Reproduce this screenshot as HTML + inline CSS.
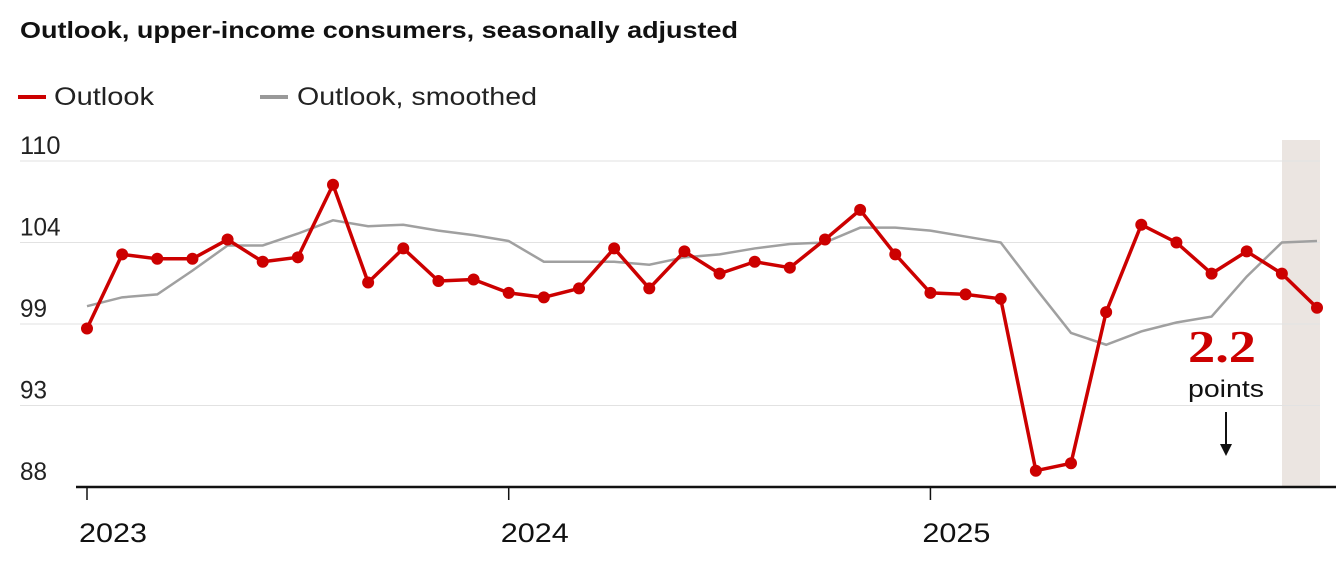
<!DOCTYPE html>
<html><head><meta charset="utf-8"><style>
body{margin:0;background:#fff;font-family:"Liberation Sans",sans-serif}
svg text{font-family:"Liberation Sans",sans-serif}
</style></head><body>
<svg id="chart" width="1343" height="567" viewBox="0 0 1343 567">
<text x="20" y="38" font-size="23" font-weight="bold" fill="#111" textLength="718" lengthAdjust="spacingAndGlyphs">Outlook, upper-income consumers, seasonally adjusted</text>
<g><line x1="18" y1="97" x2="46" y2="97" stroke="#cc0000" stroke-width="4"/><text x="54" y="105" font-size="25" fill="#222" textLength="100" lengthAdjust="spacingAndGlyphs">Outlook</text></g>
<g><line x1="260" y1="97" x2="288" y2="97" stroke="#999" stroke-width="4"/><text x="297" y="105" font-size="25" fill="#222" textLength="240" lengthAdjust="spacingAndGlyphs">Outlook, smoothed</text></g>
<rect x="1282" y="140" width="38" height="347" fill="#ebe5e1"/>
<g id="grid"></g>
<g id="series"></g>
<text x="1188" y="362" font-size="46" font-weight="bold" fill="#cc0000" textLength="68" lengthAdjust="spacingAndGlyphs" style="font-family:'Liberation Serif',serif">2.2</text>
<text x="1188" y="397" font-size="24" fill="#111" textLength="76" lengthAdjust="spacingAndGlyphs">points</text>
<line x1="1226" y1="412" x2="1226" y2="448" stroke="#111" stroke-width="2"/>
<polygon points="1220,444 1232,444 1226,456" fill="#111"/>
</svg>
<script>
const yTickValues=[110,104.5,99,93.5,88];
const yTickLabels=["110","104","99","93","88"];
const xYearLabels=["2023","2024","2025"];
const outlook=[98.7,103.7,103.4,103.4,104.7,103.2,103.5,108.4,101.8,104.1,101.9,102.0,101.1,100.8,101.4,104.1,101.4,103.9,102.4,103.2,102.8,104.7,106.7,103.7,101.1,101.0,100.7,89.1,89.6,99.8,105.7,104.5,102.4,103.9,102.4,100.1];
const smoothed=[100.2,100.8,101.0,102.6,104.3,104.3,105.1,106.0,105.6,105.7,105.3,105.0,104.6,103.2,103.2,103.2,103.0,103.5,103.7,104.1,104.4,104.5,105.5,105.5,105.3,104.9,104.5,101.4,98.4,97.6,98.5,99.1,99.5,102.2,104.5,104.6];
const NS="http://www.w3.org/2000/svg";
const x=i=>87+i*(1317-87)/35;
const y=v=>487-(v-88)*(487-161)/22;
const grid=document.getElementById('grid'),ser=document.getElementById('series');
function mk(tag,attrs,parent){const e=document.createElementNS(NS,tag);for(const k in attrs)e.setAttribute(k,attrs[k]);parent.appendChild(e);return e;}
yTickValues.forEach((v,i)=>{
 if(i<yTickValues.length-1){const l=mk('line',{x1:20,x2:1320,y1:y(v),y2:y(v),stroke:'#e2e2e2','stroke-width':1},grid);
 
 }
 const t=mk('text',{x:20,y:y(v)-7,'font-size':25,fill:'#222',textLength:yTickLabels[i].length*13.5,lengthAdjust:'spacingAndGlyphs'},grid);t.textContent=yTickLabels[i];
 
 
});
const base=mk('line',{x1:76,x2:1336,y1:487,y2:487,stroke:'#111','stroke-width':2.5},grid);


xYearLabels.forEach((lab,i)=>{
 const xi=x(i*12);
 const tk=mk('line',{x1:xi,x2:xi,y1:487,y2:500,stroke:'#111','stroke-width':1.5},grid);
 
 
 const t=mk('text',{x:xi-8,y:542,'font-size':27,fill:'#111',textLength:68,lengthAdjust:'spacingAndGlyphs'},grid);t.textContent=lab;
 
 
});
const sp=mk('polyline',{points:smoothed.map((v,i)=>x(i)+','+y(v)).join(' '),fill:'none',stroke:'#a0a0a0','stroke-width':2.5},ser);


const op=mk('polyline',{points:outlook.map((v,i)=>x(i)+','+y(v)).join(' '),fill:'none',stroke:'#cc0000','stroke-width':3.5,'stroke-linejoin':'round'},ser);


outlook.forEach((v,i)=>{
 const c=mk('circle',{cx:x(i),cy:y(v),r:6,fill:'#cc0000'},ser);
 
 
});
</script>
</body></html>
